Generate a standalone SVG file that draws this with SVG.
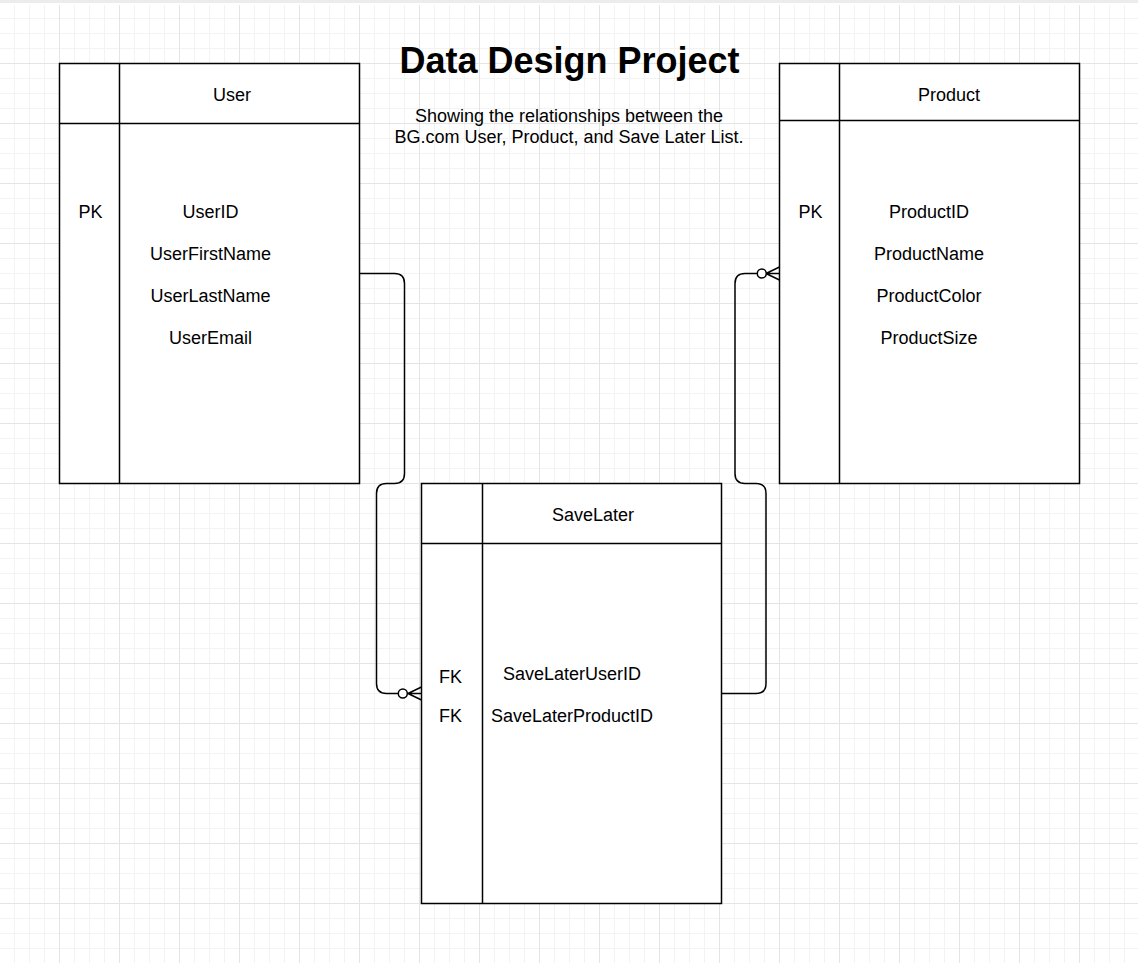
<svg xmlns="http://www.w3.org/2000/svg" width="1138" height="963" viewBox="0 0 1138 963">
<style>
.tbl{fill:#ffffff;stroke:#000000;stroke-width:1.5}
.ln{fill:none;stroke:#000000;stroke-width:1.5}
.t{font-family:"Liberation Sans",Arial,sans-serif;font-size:18px;fill:#000000;text-anchor:middle}
.title{font-family:"Liberation Sans",Arial,sans-serif;font-size:36px;font-weight:bold;fill:#000000;text-anchor:middle}
.conn{fill:none;stroke:#000000;stroke-width:1.5;stroke-linejoin:round}
.circ{fill:#ffffff;stroke:#000000;stroke-width:1.5}
</style>
<defs>
<pattern id="grid" x="59" y="3" width="60" height="60" patternUnits="userSpaceOnUse">
<path d="M15.5 0V60M30.5 0V60M45.5 0V60M0 15.5H60M0 30.5H60M0 45.5H60" stroke="#f3f3f3" stroke-width="1" fill="none"/>
<path d="M0.5 0V60M0 0.5H60" stroke="#e4e4e4" stroke-width="1" fill="none"/>
</pattern>
</defs>
<rect x="0" y="0" width="1138" height="963" fill="#ffffff"/>
<rect x="0" y="0" width="1138" height="3" fill="#ececec"/>
<rect x="0" y="5" width="1138" height="958" fill="url(#grid)"/>

<g id="title">
<text class="title" x="569.5" y="73">Data Design Project</text>
<text class="t" x="569" y="122">Showing the relationships between the</text>
<text class="t" x="569" y="143">BG.com User, Product, and Save Later List.</text>
</g>

<g id="connectors">
<path class="conn" d="M359.5 273.5H394.5Q404.5 273.5 404.5 283.5V473.5Q404.5 483.5 394.5 483.5H386.5Q376.5 483.5 376.5 493.5V683.5Q376.5 693.5 386.5 693.5H398.3"/>
<circle class="circ" cx="402.8" cy="693.5" r="4.5"/>
<path class="conn" d="M407.3 693.5H421.5M408 693.5L421.5 687M408 693.5L421.5 700"/>
<path class="conn" d="M721.5 693.5H756Q766 693.5 766 683.5V493.5Q766 483.5 756 483.5H745Q735 483.5 735 473.5V283.5Q735 273.5 745 273.5H757.3"/>
<circle class="circ" cx="761.8" cy="273.5" r="4.5"/>
<path class="conn" d="M766.3 273.5H779.5M766 273.5L779.5 267M766 273.5L779.5 280"/>
</g>

<g id="user">
<rect class="tbl" x="59.5" y="63.5" width="300" height="420"/>
<path class="ln" d="M119.5 63.5V483.5M59.5 123.5H359.5"/>
<text class="t" x="232" y="101">User</text>
<text class="t" x="90.5" y="218">PK</text>
<text class="t" x="210.5" y="218">UserID</text>
<text class="t" x="210.5" y="260">UserFirstName</text>
<text class="t" x="210.5" y="302">UserLastName</text>
<text class="t" x="210.5" y="344">UserEmail</text>
</g>

<g id="product">
<rect class="tbl" x="779.5" y="63.5" width="300" height="420"/>
<path class="ln" d="M839.5 63.5V483.5M779.5 120.5H1079.5"/>
<text class="t" x="949" y="101">Product</text>
<text class="t" x="810.5" y="218">PK</text>
<text class="t" x="929" y="218">ProductID</text>
<text class="t" x="929" y="260">ProductName</text>
<text class="t" x="929" y="302">ProductColor</text>
<text class="t" x="929" y="344">ProductSize</text>
</g>

<g id="savelater">
<rect class="tbl" x="421.5" y="483.5" width="300" height="420"/>
<path class="ln" d="M482.5 483.5V903.5M421.5 543.5H721.5"/>
<text class="t" x="593" y="521">SaveLater</text>
<text class="t" x="450.5" y="683">FK</text>
<text class="t" x="572" y="680">SaveLaterUserID</text>
<text class="t" x="450.5" y="722">FK</text>
<text class="t" x="572" y="722">SaveLaterProductID</text>
</g>
</svg>
